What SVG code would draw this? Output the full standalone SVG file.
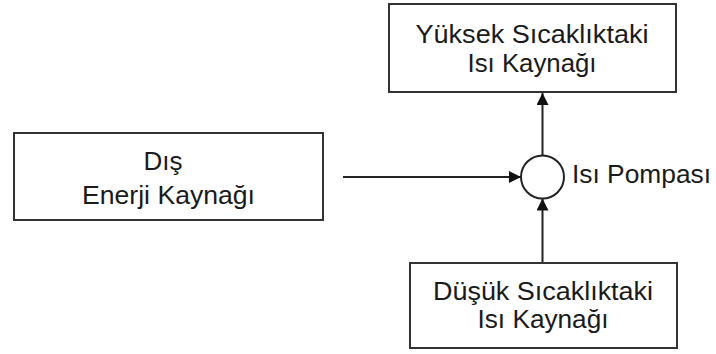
<svg xmlns="http://www.w3.org/2000/svg" width="716" height="354" viewBox="0 0 716 354">
<defs>
<style>
.box{fill:#fff;stroke:#333;stroke-width:2}
.t{font-family:"Liberation Sans",Arial,sans-serif;font-size:26px;fill:#1a1a1a;text-anchor:middle}
.c{fill:none;stroke:#222;stroke-width:2}
</style>
<marker id="ah" markerWidth="12" markerHeight="12" refX="12" refY="6" orient="auto" markerUnits="userSpaceOnUse">
<path d="M0,0 L12,6 L0,12 Z" fill="#111"/>
</marker>
</defs>
<rect width="716" height="354" fill="#fff"/>
<g id="yuksek">
<rect class="box" x="389" y="4" width="287" height="88"/>
<text class="t" x="532" y="43" textLength="233" lengthAdjust="spacingAndGlyphs">Yüksek Sıcaklıktaki</text>
<text class="t" x="532" y="72" textLength="129" lengthAdjust="spacingAndGlyphs">Isı Kaynağı</text>
</g>
<g id="dis">
<rect class="box" x="14" y="133" width="309" height="87"/>
<text class="t" x="163" y="170" textLength="39" lengthAdjust="spacingAndGlyphs">Dış</text>
<text class="t" x="168.5" y="204" textLength="173" lengthAdjust="spacingAndGlyphs">Enerji Kaynağı</text>
</g>
<g id="dusuk">
<rect class="box" x="410" y="263" width="267" height="85"/>
<text class="t" x="543" y="300" textLength="220" lengthAdjust="spacingAndGlyphs">Düşük Sıcaklıktaki</text>
<text class="t" x="543" y="328" textLength="131" lengthAdjust="spacingAndGlyphs">Isı Kaynağı</text>
</g>
<g id="pompa">
<circle cx="542.5" cy="177" r="21.5" fill="#fff" stroke="#222" stroke-width="2"/>
<text class="t" x="572" y="183" style="text-anchor:start" textLength="139" lengthAdjust="spacingAndGlyphs">Isı Pompası</text>
</g>
<g id="connectors">
<line class="c" x1="343" y1="177" x2="521" y2="177" marker-end="url(#ah)"/>
<line class="c" x1="542.5" y1="155.5" x2="542.5" y2="93" marker-end="url(#ah)"/>
<line class="c" x1="542.5" y1="262" x2="542.5" y2="198.5" marker-end="url(#ah)"/>
</g>
</svg>
